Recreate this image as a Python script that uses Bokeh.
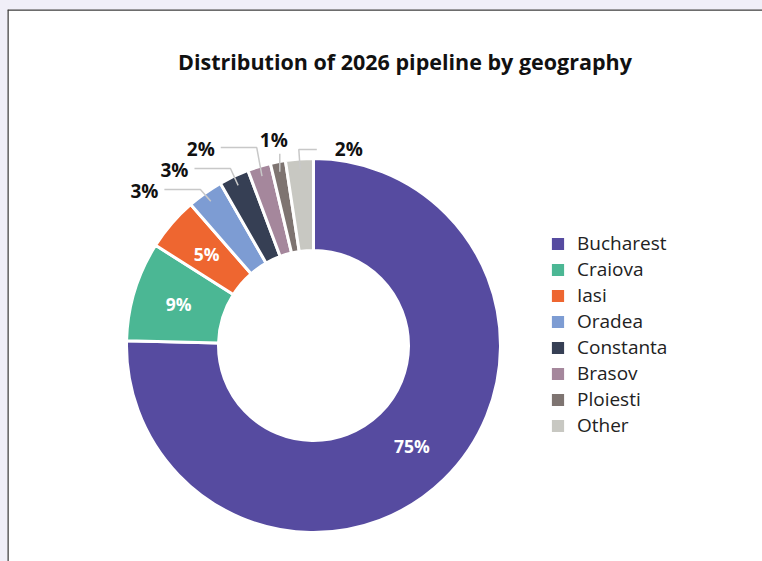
import numpy as np
from bokeh.plotting import figure
from bokeh.models import ColumnDataSource, Range1d, Label, Legend, LegendItem, Span
from bokeh.embed import file_html
from bokeh.resources import INLINE
from bokeh.core.properties import value

# ---- data ----
cities = ["Bucharest", "Craiova", "Iasi", "Oradea", "Constanta", "Brasov", "Ploiesti", "Other"]
shares = [75.4, 8.6, 4.6, 3.1, 2.6, 2.0, 1.3, 2.4]
colors = ["#564ba0", "#4bb794", "#ee6630", "#7d9cd3", "#363f54", "#a5879c", "#7e7471", "#c8c8c2"]
title_text = "Distribution of 2026 pipeline by geography"

FONT = "Open Sans"
W, H = 762, 561
ML, MT = 7, 9
FW, FH = W - ML, H - MT

p = figure(width=W, height=H, x_range=Range1d(0, FW), y_range=Range1d(0, FH),
           output_backend="svg", toolbar_location=None,
           min_border_left=ML, min_border_top=MT, min_border_right=0, min_border_bottom=0)
p.axis.visible = False
p.grid.visible = False
p.outline_line_color = None
p.background_fill_color = "white"
p.border_fill_color = "#f0eff8"
# card border (top and left visible; card continues past the window)
p.add_layout(Span(location=0, dimension="height", line_color="#3c3c3c", line_width=2.5))
p.add_layout(Span(location=FH, dimension="width", line_color="#3c3c3c", line_width=2.5))

cx, cy = 306, 216
r_out, r_in = 187, 95

frac = np.array(shares) / sum(shares)
cum_end = np.cumsum(frac)
cum_start = cum_end - frac
start = np.pi / 2 - 2 * np.pi * cum_start
end = np.pi / 2 - 2 * np.pi * cum_end
mid = (start + end) / 2
labels = [f"{round(s)}%" for s in shares]

src = ColumnDataSource(dict(city=cities, share=shares, color=colors, start=start, end=end))
ring = p.annular_wedge(x=cx, y=cy, inner_radius=r_in, outer_radius=r_out,
                       start_angle="start", end_angle="end", direction="clock",
                       fill_color="color", line_color="white", line_width=3, source=src)

# inner labels (large slices)
big = frac >= 0.04
r_mid = (r_in + r_out) / 2
ix = cx + r_mid * np.cos(mid[big])
iy = cy + r_mid * np.sin(mid[big])
p.text(x=ix, y=iy, text=[l for l, b in zip(labels, big) if b],
       text_align="center", text_baseline="middle", text_color="white",
       text_font=value(FONT), text_font_style="bold", text_font_size="17.5px")

# outer labels with leaders (small slices)
r_anchor, r_elbow, gap = 177, 195, 21
small = list(np.where(~big)[0])
left = [i for i in small if np.cos(mid[i]) < -0.25]
elbow_y = {i: cy + r_elbow * np.sin(mid[i]) for i in small}
# spread overlapping left-side labels evenly around their mean height
ly_left = [elbow_y[i] for i in left]
if len(left) > 1 and min(np.diff(sorted(ly_left))) < gap:
    m = np.mean(ly_left) + 3
    order = np.argsort(ly_left)
    for k, j in enumerate(order):
        elbow_y[left[j]] = m + (k - (len(left) - 1) / 2) * gap

lx, ly, ltxt, lalign, lbase = [], [], [], [], []
xs, ys = [], []
for i in small:
    c, s = np.cos(mid[i]), np.sin(mid[i])
    ax, ay = cx + r_anchor * c, cy + r_anchor * s
    ex, ey = cx + r_elbow * c, elbow_y[i]
    if c < -0.25:
        xs.append([ax, ex, ex - 36]); ys.append([ay, ey, ey])
        lx.append(ex - 42); ly.append(ey - 1.5); lalign.append("right"); lbase.append("middle")
    elif c < -0.1:
        xs.append([ax, ax]); ys.append([ay, ay + 18])
        lx.append(ax - 6); ly.append(ay + 19); lalign.append("center"); lbase.append("bottom")
    else:
        ey += 1.5
        xs.append([ax, ex, ex + 18]); ys.append([ay, ey, ey])
        lx.append(ex + 36); ly.append(ey + 1); lalign.append("left"); lbase.append("middle")
    ltxt.append(labels[i])

p.multi_line(xs=xs, ys=ys, line_color="#c8c8c8", line_width=1.5)
p.text(x=lx, y=ly, text=ltxt, text_align=lalign, text_baseline=lbase,
       text_color="#111111", text_font=value(FONT), text_font_style="bold",
       text_font_size="19px")

# title
p.add_layout(Label(x=397.5, y=500, x_units="screen", y_units="screen", text=title_text,
                   text_align="center", text_baseline="middle", text_font=FONT,
                   text_font_style="bold", text_font_size="21.5px", text_color="#111111"))

# legend
items = [LegendItem(label=c, renderers=[ring], index=i) for i, c in enumerate(cities)]
leg = Legend(items=items, location=(541, 123), orientation="vertical",
             label_text_font=FONT, label_text_font_size="19px", label_text_color="#222222",
             glyph_width=19, glyph_height=19, label_standoff=10, spacing=0,
             padding=0, margin=0, border_line_color=None, background_fill_alpha=0)
p.add_layout(leg)

html = file_html(p, INLINE)
html = html.replace("<head>", "<head><style>body{background:#f0eff8;}</style>", 1)
open("out.html", "w").write(html)
